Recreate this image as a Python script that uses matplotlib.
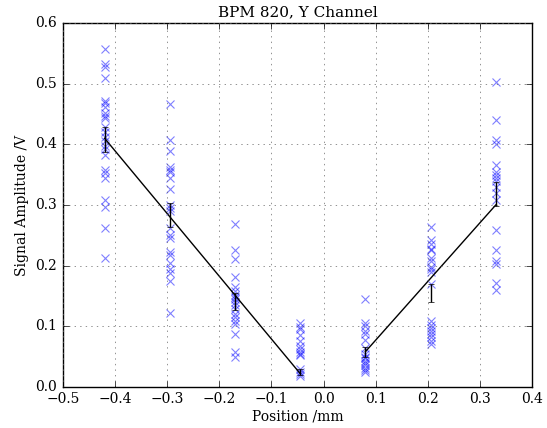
import numpy as np
import matplotlib
matplotlib.use("Agg")
import matplotlib.pyplot as plt

plt.style.use("classic")
plt.rcParams["font.family"] = "DejaVu Serif"
plt.rcParams["font.size"] = 10

positions = [-0.42, -0.295, -0.17, -0.045, 0.08, 0.205, 0.33]

samples = [
    [0.558, 0.533, 0.528, 0.510, 0.472, 0.468, 0.462, 0.452, 0.446, 0.443,
     0.428, 0.420, 0.412, 0.405, 0.398, 0.392, 0.383, 0.357, 0.352, 0.345,
     0.308, 0.297, 0.262, 0.212],
    [0.467, 0.408, 0.389, 0.362, 0.358, 0.355, 0.345, 0.327, 0.300, 0.295,
     0.290, 0.262, 0.250, 0.245, 0.222, 0.218, 0.205, 0.195, 0.188, 0.175,
     0.122],
    [0.269, 0.225, 0.211, 0.182, 0.165, 0.158, 0.152, 0.148, 0.145, 0.140,
     0.135, 0.128, 0.120, 0.115, 0.108, 0.103, 0.088, 0.058, 0.050],
    [0.105, 0.098, 0.095, 0.085, 0.075, 0.068, 0.062, 0.058, 0.055, 0.052,
     0.030, 0.025, 0.022, 0.018],
    [0.145, 0.105, 0.100, 0.093, 0.088, 0.078, 0.065, 0.055, 0.050, 0.047,
     0.043, 0.040, 0.036, 0.032, 0.028, 0.025],
    [0.263, 0.243, 0.235, 0.228, 0.225, 0.212, 0.208, 0.198, 0.195, 0.190,
     0.170, 0.108, 0.102, 0.097, 0.093, 0.088, 0.082, 0.076, 0.070],
    [0.503, 0.440, 0.408, 0.400, 0.366, 0.355, 0.350, 0.345, 0.340, 0.330,
     0.320, 0.308, 0.258, 0.226, 0.208, 0.203, 0.172, 0.160],
]

means = [0.408, 0.283, 0.141, 0.025, 0.058, 0.155, 0.318]
errors = [0.020, 0.020, 0.014, 0.005, 0.008, 0.015, 0.020]

fit_left_x = [-0.42, -0.045]
fit_left_y = [0.41, 0.022]
fit_right_x = [0.08, 0.33]
fit_right_y = [0.058, 0.30]

fig = plt.figure(figsize=(5.47, 4.28), dpi=100)
ax = fig.add_axes([0.115, 0.096, 0.858, 0.85])

for x, vals in zip(positions, samples):
    ax.plot([x] * len(vals), vals, "x", color="b", alpha=0.5,
            markersize=6, markeredgewidth=0.8)

ax.errorbar(positions, means, yerr=errors, fmt="none", ecolor="k",
            capsize=2.5)
ax.plot(fit_left_x, fit_left_y, "k-")
ax.plot(fit_right_x, fit_right_y, "k-")

ax.set_xlim(-0.5, 0.4)
ax.set_ylim(0.0, 0.6)
ax.grid(True, color="0.4")
ax.set_title("BPM 820, Y Channel", fontsize=11)
ax.set_xlabel("Position /mm", fontsize=10, labelpad=2)
ax.set_ylabel("Signal Amplitude /V", fontsize=10)

fig.savefig("out.png", dpi=100)
